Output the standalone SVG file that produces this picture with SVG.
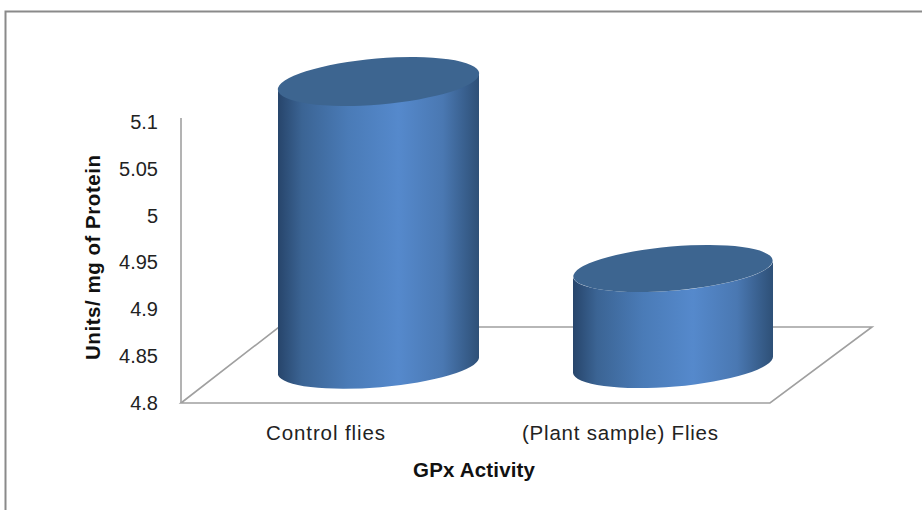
<svg xmlns="http://www.w3.org/2000/svg" width="922" height="510" viewBox="0 0 922 510">
<defs>
<linearGradient id="body" x1="0" y1="0" x2="1" y2="0">
<stop offset="0" stop-color="#27456b"/>
<stop offset="0.12" stop-color="#3b6494"/>
<stop offset="0.35" stop-color="#4a7bb7"/>
<stop offset="0.6" stop-color="#5589cc"/>
<stop offset="0.82" stop-color="#4a78b2"/>
<stop offset="1" stop-color="#2e5077"/>
</linearGradient>
<style>
.ax{fill:none;stroke:#a0a0a0;stroke-width:1.6}
.top{fill:#3d6590}
.t{font-family:"Liberation Sans",Arial,sans-serif;fill:#222;font-size:20px}
.l{font-size:20.5px}
.b{font-weight:bold;fill:#111}
</style>
</defs>
<rect x="5.5" y="11.5" width="930" height="520" fill="#fff" stroke="#8a8a8a" stroke-width="2"/>
<g id="axes">
<line class="ax" x1="181" y1="118" x2="181" y2="403"/>
<path class="ax" d="M181 403 L279 327 L872 327 L770 403 Z"/>
</g>
<g id="ticks" class="t" text-anchor="end">
<text x="158" y="129">5.1</text>
<text x="158" y="176">5.05</text>
<text x="158" y="223">5</text>
<text x="158" y="269">4.95</text>
<text x="158" y="316">4.9</text>
<text x="158" y="363">4.85</text>
<text x="158" y="410">4.8</text>
</g>
<g id="bar-control">
<path fill="url(#body)" d="M278 90 L278 375 A101 22 -4.8 0 0 479 358 L479 73 A101 23 -4.8 0 1 278 90 Z"/>
<ellipse class="top" cx="378.5" cy="81.5" rx="101" ry="23" transform="rotate(-4.8 378.5 81.5)"/>
</g>
<g id="bar-plant">
<path fill="url(#body)" d="M573 277 L573 373 A100 22 -4.8 0 0 773 356 L773 260 A100 22 -4.8 0 1 573 277 Z"/>
<ellipse class="top" cx="673" cy="268.5" rx="100" ry="22" transform="rotate(-4.8 673 268.5)"/>
</g>
<g id="labels" class="t l">
<text x="266" y="440" textLength="119" lengthAdjust="spacing">Control flies</text>
<text x="522" y="440" textLength="196" lengthAdjust="spacing">(Plant sample) Flies</text>
<text class="b" x="413" y="477" textLength="122" lengthAdjust="spacing">GPx Activity</text>
<text class="b" transform="translate(100 360) rotate(-90)" textLength="205" lengthAdjust="spacing">Units/ mg of Protein</text>
</g>
</svg>
